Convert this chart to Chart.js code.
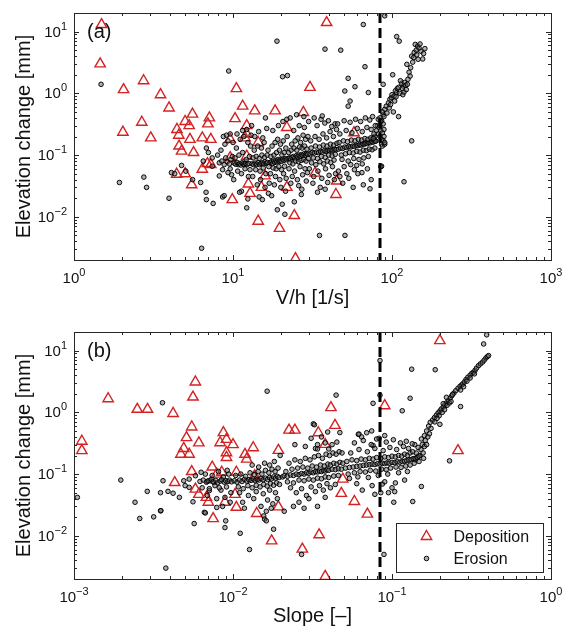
<!DOCTYPE html>
<html>
<head>
<meta charset="utf-8">
<title>Elevation change</title>
<script src="https://cdn.jsdelivr.net/npm/chart.js@4.4.0/dist/chart.umd.min.js"></script>
<style>
  html, body { margin: 0; padding: 0; background: #fff; }
  #wrap { position: relative; width: 563px; height: 629px; overflow: hidden; }
  canvas { position: absolute; left: 0; }
  #chartA { top: 0; }
  #chartB { top: 300px; }
</style>
</head>
<body>
<div id="wrap">
  <canvas id="chartA" width="563" height="320"></canvas>
  <canvas id="chartB" width="563" height="329"></canvas>
</div>
<script>
// ---- axis setup ----
const xTicksA = [1, 10, 100, 1000];
const xExpA = ['0', '1', '2', '3'];
const xTicksB = [0.001, 0.01, 0.1, 1];
const xExpB = ['\u22123', '\u22122', '\u22121', '0'];
const yTicks = [0.01, 0.1, 1, 10];
const yExp = ['\u22122', '\u22121', '0', '1'];
const thresholdA = 84;     // V/h threshold [1/s]
const thresholdB = 0.084;  // slope threshold [-]

// ---- panel (a): V/h vs elevation change ----
const depositionA = [
  [1.49, 13], [1.46, 3.0], [2.74, 1.6], [2.05, 1.15], [3.5, 0.95], [3.96, 0.58], [2.67, 0.34], [2.03, 0.235],
  [3.04, 0.19], [4.44, 0.26], [5.56, 0.46], [5.0, 0.35], [5.3, 0.30], [4.56, 0.21], [5.36, 0.18], [4.58, 0.14],
  [4.75, 0.116], [5.65, 0.11], [7.1, 0.40], [6.95, 0.32], [6.41, 0.19], [7.25, 0.18], [4.42, 0.049], [5.0, 0.05],
  [5.5, 0.033], [6.41, 0.059], [6.9, 0.073], [7.25, 0.07], [10.5, 1.19], [11.5, 0.62], [13.7, 0.52], [10.3, 0.39],
  [12.2, 0.30], [12.2, 0.22], [9.6, 0.18], [11.9, 0.19], [9.6, 0.091], [12.2, 0.096], [14.4, 0.16], [9.9, 0.019],
  [12.8, 0.024], [12.5, 0.034], [15.1, 0.030], [15.9, 0.046], [21.8, 0.030], [14.4, 0.0085], [19.6, 0.0065],
  [24.3, 0.0105], [24.7, 0.0021], [18.4, 0.52], [21.8, 0.28], [38.8, 14], [30.5, 1.25], [27.7, 0.49], [57.7, 0.23],
  [32.8, 0.051], [44.9, 0.038], [44.4, 0.023]
];

const erosionA = [
  [1.48, 1.4], [1.93, 0.036], [2.75, 0.044], [2.86, 0.030], [3.96, 0.020], [6.35, 0.0031], [9.4, 2.3], [18.9, 7.0],
  [20.5, 1.86], [22, 1.94], [4.1, 0.052], [4.3, 0.05], [4.75, 0.068], [5.05, 0.055], [5.57, 0.040], [6.26, 0.036],
  [6.77, 0.025], [6.8, 0.019], [7.5, 0.0165], [8.6, 0.021], [8.8, 0.022], [6.8, 0.13], [7.0, 0.11], [7.4, 0.09],
  [6.5, 0.08], [7.4, 0.066], [8.2, 0.046], [9.3, 0.052], [8.7, 0.2], [9.1, 0.21], [9.6, 0.22], [12.2, 0.014],
  [12.4, 0.0195], [11.3, 0.026], [11.0, 0.025], [66, 13], [90, 18], [37.9, 5.2], [47.6, 5.0], [67.6, 2.7], [53, 1.75],
  [58.5, 1.28], [50.5, 1.09], [71, 1.03], [53, 0.62], [54.5, 0.75], [88, 1.4], [101, 2.0], [107, 8.3], [111, 7.0],
  [133, 0.17], [119, 0.037], [35, 0.005], [50.6, 0.005], [72.7, 0.0285], [64.7, 0.052], [24.3, 0.0175], [110, 0.42],
  [102, 0.50],
  // steep rise beyond the threshold
  [84, 0.3], [97, 0.8], [107, 1.03], [118, 1.31], [126, 1.69], [124, 2.95], [133, 4.0], [140, 6.2], [161, 5.3],
  [146, 3.56], [88, 0.45], [90, 0.55], [92, 0.62], [95, 0.7], [99, 0.85], [100, 0.95], [103, 0.9], [105, 1.1],
  [108, 1.2], [112, 1.0], [115, 1.45], [116, 1.2], [120, 1.5], [122, 1.35], [125, 1.4], [128, 2.2], [130, 1.9],
  [131, 2.6], [135, 3.2], [137, 3.8], [138, 4.6], [142, 5.0], [143, 4.2], [145, 5.8], [148, 5.4], [150, 6.3],
  [152, 4.8], [156, 3.6], [158, 4.4], [86, 0.36], [87, 0.5], [89, 0.42], [93, 0.48], [96, 0.58], [98, 0.66],
  [104, 0.75], [106, 0.88], [110, 1.25], [113, 1.6], [117, 0.95], [119, 1.05], [123, 1.15],
  // cluster at the threshold
  [80, 0.25], [81, 0.3], [82, 0.22], [83, 0.28], [84, 0.2], [85, 0.25], [86, 0.18], [86, 0.15], [87, 0.14],
  [87, 0.23], [88, 0.17], [88, 0.32], [89, 0.2], [89, 0.26], [90, 0.15], [90, 0.16], [78, 0.2], [79, 0.17],
  [77, 0.22], [76, 0.19], [82, 0.38], [84, 0.4], [85, 0.35], [86, 0.066], [85, 0.065],
  // main band
  [8.2, 0.075], [8.5, 0.08], [8.8, 0.07], [9.0, 0.09], [9.2, 0.078], [9.5, 0.072], [9.7, 0.085], [9.9, 0.095],
  [8.4, 0.12], [8.9, 0.15], [9.3, 0.17], [9.6, 0.06], [9.8, 0.048], [8.0, 0.1], [8.6, 0.058], [10, 0.16],
  [10.2, 0.074], [10.4, 0.071], [10.6, 0.076], [10.8, 0.07], [11, 0.073], [11.2, 0.069], [11.4, 0.075], [11.6, 0.072],
  [11.8, 0.07], [12, 0.074], [12.3, 0.071], [12.6, 0.073], [10.3, 0.09], [10.9, 0.1], [11.5, 0.11], [12.1, 0.085],
  [12.7, 0.095], [10.5, 0.13], [11.1, 0.18], [11.7, 0.2], [12.4, 0.16], [12.9, 0.14], [10.7, 0.055], [11.3, 0.05],
  [11.9, 0.06], [12.5, 0.045], [10.1, 0.04], [12.8, 0.058], [10.6, 0.22], [11.5, 0.25], [12.2, 0.26], [13, 0.21],
  [13.2, 0.072], [13.5, 0.07], [13.8, 0.074], [14.1, 0.071], [14.4, 0.076], [14.7, 0.07], [15, 0.073], [15.3, 0.075],
  [15.6, 0.072], [15.9, 0.078], [16.2, 0.074], [16.5, 0.076], [13.4, 0.09], [14, 0.095], [14.6, 0.088], [15.2, 0.1],
  [15.8, 0.092], [16.4, 0.1], [13.6, 0.12], [14.3, 0.14], [15.1, 0.13], [15.7, 0.16], [16.6, 0.12], [13.9, 0.058],
  [14.8, 0.055], [15.5, 0.062], [16.1, 0.05], [13.3, 0.045], [14.9, 0.04], [16.8, 0.065], [13.7, 0.2], [14.5, 0.24],
  [15.4, 0.19], [16.3, 0.27], [14.2, 0.033], [15.9, 0.03], [16.9, 0.035], [13.1, 0.3], [16, 0.4], [14.6, 0.021],
  [15.3, 0.019], [16.7, 0.024],
  [17.1, 0.075], [17.4, 0.078], [17.7, 0.073], [18, 0.08], [18.3, 0.076], [18.6, 0.082], [18.9, 0.078], [19.2, 0.085],
  [19.5, 0.08], [19.8, 0.083], [20.1, 0.079], [20.5, 0.086], [20.9, 0.082], [21.3, 0.088], [21.7, 0.084], [17.3, 0.095],
  [18.1, 0.1], [18.8, 0.11], [19.6, 0.12], [20.3, 0.1], [21, 0.11], [21.5, 0.13], [17.6, 0.14], [18.4, 0.16],
  [19.1, 0.18], [19.9, 0.15], [20.7, 0.17], [21.9, 0.2], [17.9, 0.062], [18.7, 0.06], [19.4, 0.065], [20.2, 0.058],
  [21.1, 0.066], [17.2, 0.05], [18.5, 0.045], [19.7, 0.04], [20.8, 0.05], [21.6, 0.042], [17.8, 0.25], [19.3, 0.3],
  [20.6, 0.35], [21.8, 0.38], [18.2, 0.033], [20, 0.03], [21.4, 0.026], [19, 0.013], [20.4, 0.016], [17.5, 0.022],
  [21.2, 0.011],
  [22.2, 0.088], [22.6, 0.09], [23, 0.086], [23.5, 0.092], [24, 0.095], [24.5, 0.09], [25, 0.098], [25.5, 0.094],
  [26, 0.1], [26.5, 0.096], [27, 0.102], [27.5, 0.098], [28, 0.105], [28.5, 0.1], [29, 0.106], [29.5, 0.103],
  [22.4, 0.11], [23.2, 0.12], [24.2, 0.13], [25.2, 0.12], [26.2, 0.135], [27.2, 0.13], [28.2, 0.14], [29.2, 0.125],
  [22.8, 0.075], [23.8, 0.072], [24.8, 0.08], [25.8, 0.078], [26.8, 0.082], [27.8, 0.085], [28.8, 0.08], [29.8, 0.088],
  [23.4, 0.15], [24.6, 0.17], [25.6, 0.19], [26.6, 0.16], [27.6, 0.21], [28.6, 0.18], [29.6, 0.2], [22.5, 0.06],
  [24.4, 0.055], [26.4, 0.065], [28.4, 0.06], [23.6, 0.045], [25.4, 0.04], [27.4, 0.048], [29.4, 0.052], [24.1, 0.25],
  [26.1, 0.3], [28.1, 0.28], [29.9, 0.35], [23.1, 0.035], [25.9, 0.032], [28.9, 0.038], [27.1, 0.028], [25.1, 0.45],
  [22.9, 0.4], [27.9, 0.42], [26.9, 0.023],
  [30.5, 0.105], [31.5, 0.11], [32.5, 0.108], [33.5, 0.112], [34.5, 0.11], [35.5, 0.115], [36.5, 0.112], [37.5, 0.118],
  [38.5, 0.115], [39.5, 0.12], [40.5, 0.118], [41.5, 0.122], [42.5, 0.12], [43.5, 0.125], [44.5, 0.122], [31, 0.13],
  [33, 0.14], [35, 0.135], [37, 0.145], [39, 0.14], [41, 0.15], [43, 0.145], [45, 0.155], [32, 0.09], [34, 0.088],
  [36, 0.095], [38, 0.092], [40, 0.1], [42, 0.097], [44, 0.103], [30.8, 0.17], [32.8, 0.2], [34.8, 0.18], [36.8, 0.22],
  [38.8, 0.19], [40.8, 0.24], [42.8, 0.2], [44.8, 0.26], [31.2, 0.075], [33.2, 0.07], [35.2, 0.078], [37.2, 0.072],
  [39.2, 0.08], [41.2, 0.076], [43.2, 0.083], [30.2, 0.06], [34.2, 0.055], [38.2, 0.06], [42.2, 0.065], [32.2, 0.045],
  [36.2, 0.042], [40.2, 0.047], [44.2, 0.05], [33.8, 0.3], [37.8, 0.33], [41.8, 0.29], [35.8, 0.38], [39.8, 0.36],
  [43.8, 0.32], [31.8, 0.035], [35.4, 0.03], [39.4, 0.036], [43.4, 0.04], [34, 0.025], [38, 0.028], [32.4, 0.4],
  [36.4, 0.43],
  [46, 0.125], [47.5, 0.13], [49, 0.128], [50.5, 0.135], [52, 0.132], [53.5, 0.138], [55, 0.135], [56.5, 0.14],
  [58, 0.138], [59.5, 0.145], [61, 0.142], [62.5, 0.148], [64, 0.145], [65.5, 0.152], [67, 0.15], [68.5, 0.155],
  [70, 0.153], [71.5, 0.16], [73, 0.158], [74.5, 0.165], [76, 0.162], [77.5, 0.17], [79, 0.168], [46.5, 0.16],
  [49.5, 0.17], [52.5, 0.165], [55.5, 0.175], [58.5, 0.17], [61.5, 0.18], [64.5, 0.175], [67.5, 0.185], [70.5, 0.18],
  [73.5, 0.19], [76.5, 0.185], [48, 0.1], [51, 0.105], [54, 0.11], [57, 0.108], [60, 0.115], [63, 0.112], [66, 0.12],
  [69, 0.118], [72, 0.125], [75, 0.122], [78, 0.13], [47, 0.22], [51.5, 0.25], [56, 0.23], [60.5, 0.27], [65, 0.24],
  [69.5, 0.28], [74, 0.26], [78.5, 0.3], [48.5, 0.085], [53, 0.08], [57.5, 0.088], [62, 0.085], [66.5, 0.09],
  [71, 0.095], [50, 0.065], [55, 0.07], [60, 0.068], [65, 0.072], [46, 0.055], [52, 0.05], [58, 0.058], [45.5, 0.32],
  [50, 0.36], [54.5, 0.34], [59, 0.38], [63.5, 0.35], [68, 0.4], [72.5, 0.37], [75.5, 0.42], [47, 0.045], [53.5, 0.042],
  [61, 0.05], [70, 0.06], [49, 0.035], [57, 0.03], [66, 0.033], [74, 0.04]
];

// ---- panel (b): slope vs elevation change ----
const depositionB = [
  [0.00112, 0.34], [0.00112, 0.24], [0.00164, 1.66], [0.0025, 1.12], [0.0029, 1.12], [0.0042, 0.96], [0.0058, 3.1],
  [0.0056, 1.77], [0.0055, 0.58], [0.0051, 0.39], [0.0061, 0.32], [0.0049, 0.26], [0.0047, 0.21], [0.0053, 0.21],
  [0.0043, 0.073], [0.0055, 0.11], [0.0058, 0.057], [0.0061, 0.047], [0.0068, 0.042], [0.0070, 0.035], [0.0075, 0.019],
  [0.0074, 0.13], [0.0079, 0.10], [0.0087, 0.47], [0.0091, 0.365], [0.0083, 0.322], [0.010, 0.30], [0.0134, 0.267],
  [0.0193, 0.242], [0.0119, 0.209], [0.0091, 0.222], [0.0091, 0.186], [0.0122, 0.175], [0.0085, 0.107], [0.0105, 0.107],
  [0.0137, 0.094], [0.0089, 0.035], [0.0103, 0.047], [0.0105, 0.029], [0.0141, 0.023], [0.0193, 0.0295], [0.0175, 0.0083],
  [0.0273, 0.0061], [0.0348, 0.0104], [0.038, 0.0022], [0.048, 0.0487], [0.058, 0.036], [0.07, 0.0225], [0.0413, 1.19],
  [0.0438, 0.615], [0.0344, 0.467], [0.0225, 0.516], [0.0245, 0.516], [0.038, 0.303], [0.09, 1.28], [0.2, 14.5],
  [0.26, 0.24], [0.049, 0.083], [0.0136, 0.088]
];

const erosionB = [
  [0.00105, 0.042], [0.00197, 0.08], [0.00242, 0.035], [0.00259, 0.0191], [0.00289, 0.0525], [0.00317, 0.0203],
  [0.0035, 0.0254], [0.00352, 0.0256], [0.0035, 0.050], [0.00363, 0.078], [0.0039, 0.0525], [0.0042, 0.049],
  [0.00378, 0.0030], [0.0046, 0.042], [0.0049, 0.078], [0.005, 0.065], [0.0053, 0.061], [0.0053, 0.083], [0.0056, 0.0356],
  [0.0057, 0.0158], [0.0063, 0.107], [0.0058, 0.094], [0.0066, 0.024], [0.0067, 0.0235], [0.0069, 0.076], [0.0072, 0.078],
  [0.0076, 0.073], [0.0071, 0.054], [0.0079, 0.0288], [0.0036, 1.43], [0.0164, 2.2], [0.0445, 1.9], [0.076, 1.4],
  [0.032, 0.65], [0.0394, 0.48], [0.047, 0.47], [0.0614, 0.44], [0.0644, 0.40], [0.0693, 0.468], [0.0745, 0.50],
  [0.033, 0.26], [0.034, 0.255], [0.040, 0.255], [0.084, 6.9], [0.084, 1.9], [0.133, 5.0], [0.187, 4.9], [0.13, 1.69],
  [0.116, 1.06], [0.27, 1.24], [0.23, 0.164], [0.153, 0.063], [0.135, 0.036], [0.104, 0.052], [0.1026, 0.035],
  [0.095, 0.050], [0.087, 0.069], [0.078, 0.047], [0.089, 0.005], [0.377, 12.8], [0.394, 18], [0.027, 0.005],
  [0.0127, 0.006], [0.0111, 0.011], [0.018, 0.0128], [0.0156, 0.021], [0.0158, 0.0186], [0.0162, 0.0175],
  [0.0089, 0.0136], [0.009, 0.0175], [0.0325, 0.63], [0.062, 0.445], [0.08, 0.37], [0.09, 0.42], [0.076, 0.29],
  // steep rise at high slopes
  [0.153, 0.37], [0.16, 0.42], [0.165, 0.5], [0.17, 0.6], [0.174, 0.69], [0.18, 0.75], [0.185, 0.82], [0.19, 0.9],
  [0.195, 0.98], [0.2, 1.05], [0.204, 1.13], [0.21, 1.22], [0.215, 1.32], [0.22, 1.42], [0.226, 1.55], [0.232, 1.7],
  [0.238, 1.86], [0.245, 2.05], [0.252, 2.25], [0.26, 2.45], [0.268, 2.65], [0.275, 2.8], [0.279, 2.88], [0.285, 3.1],
  [0.292, 3.4], [0.3, 3.7], [0.31, 4.0], [0.318, 4.3], [0.325, 4.45], [0.333, 4.8], [0.34, 5.2], [0.35, 5.7],
  [0.36, 6.1], [0.371, 6.5], [0.38, 7.0], [0.39, 7.6], [0.398, 8.0], [0.405, 8.3], [0.198, 0.88], [0.207, 1.0],
  [0.214, 1.1], [0.222, 1.3], [0.23, 1.42], [0.186, 0.7], [0.192, 0.8], [0.2, 0.64], [0.22, 1.75],
  [0.235, 1.5], [0.27, 2.3], [0.282, 2.6], [0.296, 3.2], [0.31, 3.6], [0.33, 4.2], [0.21, 1.38], [0.24, 1.95],
  [0.15, 0.2], [0.152, 0.25], [0.155, 0.3], [0.157, 0.22], [0.16, 0.28], [0.162, 0.35], [0.158, 0.18], [0.165, 0.3],
  [0.168, 0.4], [0.172, 0.45], [0.176, 0.55], [0.148, 0.16], [0.145, 0.19], [0.142, 0.22], [0.14, 0.17], [0.138, 0.15],
  // main band
  [0.0062, 0.076], [0.0065, 0.08], [0.0068, 0.074], [0.007, 0.078], [0.0073, 0.082], [0.0075, 0.075], [0.0078, 0.079],
  [0.008, 0.072], [0.0083, 0.077], [0.0085, 0.081], [0.0088, 0.074], [0.009, 0.078], [0.0093, 0.076], [0.0095, 0.08],
  [0.0098, 0.075], [0.0064, 0.06], [0.0071, 0.058], [0.0077, 0.065], [0.0084, 0.055], [0.0091, 0.062], [0.0097, 0.05],
  [0.0067, 0.1], [0.0074, 0.095], [0.0081, 0.11], [0.0087, 0.09], [0.0094, 0.1], [0.0069, 0.045], [0.0079, 0.04],
  [0.0089, 0.042], [0.0096, 0.035], [0.0086, 0.03], [0.0082, 0.06], [0.0092, 0.115],
  [0.0102, 0.078], [0.0106, 0.074], [0.011, 0.08], [0.0114, 0.076], [0.0118, 0.082], [0.0122, 0.077], [0.0126, 0.081],
  [0.013, 0.079], [0.0134, 0.083], [0.0138, 0.078], [0.0142, 0.082], [0.0146, 0.08], [0.015, 0.085], [0.0155, 0.081],
  [0.016, 0.086], [0.0165, 0.082], [0.017, 0.088], [0.0175, 0.084], [0.018, 0.09], [0.0185, 0.086], [0.019, 0.092],
  [0.0195, 0.088], [0.0104, 0.095], [0.0112, 0.1], [0.012, 0.092], [0.0128, 0.105], [0.0136, 0.098], [0.0144, 0.11],
  [0.0152, 0.1], [0.016, 0.115], [0.0168, 0.105], [0.0176, 0.12], [0.0184, 0.11], [0.0192, 0.125], [0.0108, 0.062],
  [0.0116, 0.058], [0.0124, 0.065], [0.0132, 0.06], [0.014, 0.066], [0.0148, 0.062], [0.0156, 0.068], [0.0164, 0.064],
  [0.0172, 0.07], [0.018, 0.066], [0.0188, 0.072], [0.0196, 0.068], [0.011, 0.05], [0.0125, 0.045], [0.014, 0.052],
  [0.0155, 0.048], [0.017, 0.055], [0.0185, 0.05], [0.0115, 0.035], [0.0135, 0.04], [0.015, 0.03], [0.0165, 0.038],
  [0.0178, 0.033], [0.019, 0.04], [0.0132, 0.14], [0.0158, 0.15], [0.0182, 0.16], [0.0145, 0.13], [0.017, 0.14],
  [0.0198, 0.2], [0.0162, 0.025], [0.0118, 0.028], [0.0174, 0.028],
  [0.0205, 0.09], [0.021, 0.094], [0.022, 0.092], [0.023, 0.097], [0.024, 0.095], [0.025, 0.1], [0.026, 0.098],
  [0.027, 0.102], [0.028, 0.1], [0.029, 0.105], [0.03, 0.103], [0.031, 0.108], [0.032, 0.105], [0.033, 0.11],
  [0.034, 0.108], [0.035, 0.112], [0.036, 0.11], [0.037, 0.115], [0.038, 0.112], [0.039, 0.117], [0.04, 0.115],
  [0.042, 0.12], [0.044, 0.118], [0.046, 0.122], [0.048, 0.12], [0.0215, 0.11], [0.0235, 0.12], [0.0255, 0.125],
  [0.0275, 0.13], [0.0295, 0.125], [0.0315, 0.135], [0.0335, 0.13], [0.0355, 0.14], [0.0375, 0.135], [0.0395, 0.145],
  [0.041, 0.14], [0.043, 0.15], [0.045, 0.145], [0.047, 0.155], [0.049, 0.15], [0.022, 0.075], [0.024, 0.072],
  [0.026, 0.08], [0.028, 0.078], [0.03, 0.083], [0.032, 0.08], [0.034, 0.086], [0.036, 0.084], [0.038, 0.09],
  [0.04, 0.088], [0.043, 0.093], [0.046, 0.095], [0.0225, 0.15], [0.0245, 0.17], [0.0265, 0.16], [0.0285, 0.18],
  [0.0305, 0.17], [0.0325, 0.19], [0.0345, 0.2], [0.0365, 0.18], [0.0385, 0.21], [0.0405, 0.2], [0.0425, 0.22],
  [0.0445, 0.21], [0.0465, 0.23], [0.0485, 0.22], [0.023, 0.06], [0.027, 0.058], [0.031, 0.062], [0.035, 0.065],
  [0.039, 0.07], [0.044, 0.068], [0.025, 0.05], [0.029, 0.045], [0.033, 0.052], [0.037, 0.055], [0.041, 0.06],
  [0.026, 0.035], [0.03, 0.04], [0.034, 0.03], [0.038, 0.042], [0.021, 0.025], [0.024, 0.03], [0.028, 0.028],
  [0.0245, 0.3], [0.0285, 0.28], [0.034, 0.3], [0.038, 0.32], [0.042, 0.3], [0.045, 0.33], [0.031, 0.38], [0.036, 0.4],
  [0.051, 0.125], [0.054, 0.128], [0.057, 0.13], [0.06, 0.133], [0.063, 0.135], [0.066, 0.138], [0.069, 0.14],
  [0.072, 0.142], [0.075, 0.145], [0.078, 0.143], [0.081, 0.147], [0.084, 0.145], [0.087, 0.15], [0.09, 0.148],
  [0.093, 0.152], [0.096, 0.15], [0.1, 0.155], [0.104, 0.153], [0.108, 0.158], [0.112, 0.156], [0.116, 0.16],
  [0.12, 0.162], [0.124, 0.165], [0.128, 0.17], [0.132, 0.172], [0.136, 0.178], [0.14, 0.18], [0.144, 0.185],
  [0.148, 0.195], [0.052, 0.16], [0.056, 0.17], [0.06, 0.165], [0.064, 0.175], [0.068, 0.17], [0.072, 0.18],
  [0.076, 0.175], [0.08, 0.185], [0.085, 0.18], [0.09, 0.19], [0.095, 0.185], [0.1, 0.195], [0.105, 0.19], [0.11, 0.2],
  [0.115, 0.195], [0.12, 0.21], [0.125, 0.2], [0.13, 0.22], [0.135, 0.23], [0.053, 0.1], [0.058, 0.105], [0.063, 0.11],
  [0.068, 0.108], [0.073, 0.115], [0.079, 0.112], [0.086, 0.12], [0.092, 0.118], [0.098, 0.125], [0.106, 0.13],
  [0.114, 0.128], [0.122, 0.135], [0.13, 0.14], [0.055, 0.22], [0.062, 0.25], [0.07, 0.23], [0.078, 0.26],
  [0.088, 0.24], [0.097, 0.27], [0.107, 0.25], [0.118, 0.28], [0.127, 0.26], [0.139, 0.3], [0.146, 0.27],
  [0.054, 0.085], [0.061, 0.09], [0.071, 0.088], [0.082, 0.095], [0.094, 0.1], [0.11, 0.105], [0.125, 0.11],
  [0.058, 0.32], [0.066, 0.35], [0.074, 0.3], [0.083, 0.38], [0.092, 0.33], [0.102, 0.36], [0.113, 0.32],
  [0.123, 0.34], [0.134, 0.31], [0.06, 0.07], [0.075, 0.065], [0.09, 0.075], [0.105, 0.072], [0.12, 0.08],
  [0.065, 0.055], [0.085, 0.05], [0.1, 0.06]
];

const FONT = '"Liberation Sans", Arial, Helvetica, sans-serif';
const AXIS_COLOR = '#262626';

const depositionStyle = {
  pointStyle: 'triangle', radius: 6, borderWidth: 1.4,
  borderColor: '#d42222', backgroundColor: 'rgba(0,0,0,0)'
};
const erosionStyle = {
  pointStyle: 'circle', radius: 2.3, borderWidth: 1,
  borderColor: 'rgba(0,0,0,0.95)', backgroundColor: 'rgba(95,95,95,0.5)'
};

const toXY = pts => pts.map(p => ({ x: p[0], y: p[1] }));

/**
 * Draw "10" with a superscript exponent
 */
function drawPow(ctx, exp, x, y, align) {
  ctx.font = '15px ' + FONT;
  const wBase = ctx.measureText('10').width;
  ctx.font = '11px ' + FONT;
  const wExp = ctx.measureText(exp).width;
  let left = x;
  if (align === 'center') left = x - (wBase + wExp) / 2;
  if (align === 'right') left = x - (wBase + wExp);
  ctx.textAlign = 'left';
  ctx.textBaseline = 'alphabetic';
  ctx.font = '15px ' + FONT;
  ctx.fillText('10', left, y);
  ctx.font = '11px ' + FONT;
  ctx.fillText(exp, left + wBase, y - 7);
}

// MATLAB-like frame: box, inward ticks on all sides, labels, threshold line, legend
const matlabFrame = {
  id: 'matlabFrame',
  afterDatasetsDraw(chart, args, opts) {
    const { ctx, chartArea: a, scales: { x } } = chart;
    const px = Math.round(x.getPixelForValue(opts.threshold));
    ctx.save();
    ctx.strokeStyle = '#000';
    ctx.lineWidth = 3;
    ctx.setLineDash([10, 5]);
    ctx.beginPath();
    ctx.moveTo(px, a.top);
    ctx.lineTo(px, a.bottom);
    ctx.stroke();
    ctx.restore();
  },
  afterDraw(chart, args, opts) {
    const { ctx, chartArea: a, scales: { x, y } } = chart;
    ctx.save();
    ctx.strokeStyle = AXIS_COLOR;
    ctx.fillStyle = '#111';
    ctx.lineWidth = 1;

    // box
    ctx.strokeRect(Math.round(a.left) + 0.5, Math.round(a.top) + 0.5,
      Math.round(a.right - a.left), Math.round(a.bottom - a.top));

    // ticks
    const logTicks = (scale) => {
      const out = [];
      const k0 = Math.floor(Math.log10(scale.min) + 1e-9);
      const k1 = Math.ceil(Math.log10(scale.max) - 1e-9);
      for (let k = k0; k <= k1; k++) {
        for (let m = 1; m <= 9; m++) {
          const v = m * Math.pow(10, k);
          if (v >= scale.min * 0.999 && v <= scale.max * 1.001) out.push({ v, major: m === 1 });
        }
      }
      return out;
    };
    ctx.beginPath();
    logTicks(x).forEach(t => {
      const p = Math.round(x.getPixelForValue(t.v)) + 0.5;
      const len = t.major ? 5 : 3;
      ctx.moveTo(p, a.bottom); ctx.lineTo(p, a.bottom - len);
      ctx.moveTo(p, a.top); ctx.lineTo(p, a.top + len);
    });
    logTicks(y).forEach(t => {
      const p = Math.round(y.getPixelForValue(t.v)) + 0.5;
      const len = t.major ? 5 : 3;
      ctx.moveTo(a.left, p); ctx.lineTo(a.left + len, p);
      ctx.moveTo(a.right, p); ctx.lineTo(a.right - len, p);
    });
    ctx.stroke();

    // tick labels
    opts.xTicks.forEach((v, i) => {
      drawPow(ctx, opts.xExp[i], x.getPixelForValue(v), a.bottom + 23, 'center');
    });
    yTicks.forEach((v, i) => {
      drawPow(ctx, yExp[i], a.left - 7, y.getPixelForValue(v) + 5, 'right');
    });

    // axis titles
    ctx.font = '20px ' + FONT;
    ctx.textAlign = 'center';
    ctx.textBaseline = 'alphabetic';
    ctx.fillText(opts.xTitle, (a.left + a.right) / 2, a.bottom + opts.xTitleOffset);
    ctx.save();
    ctx.translate(30, (a.top + a.bottom) / 2);
    ctx.rotate(-Math.PI / 2);
    ctx.fillText('Elevation change [mm]', 0, 0);
    ctx.restore();

    // panel label
    ctx.textAlign = 'left';
    ctx.font = '20px ' + FONT;
    ctx.fillText(opts.panel, a.left + 13, a.top + 25);

    // legend
    if (opts.legend) {
      const lx = 396.5, ly = a.bottom - 55.5, lw = 147, lh = 49;
      ctx.fillStyle = '#fff';
      ctx.fillRect(lx, ly, lw, lh);
      ctx.strokeStyle = AXIS_COLOR;
      ctx.strokeRect(lx, ly, lw, lh);
      chart.data.datasets.forEach((ds, i) => {
        const my = ly + 13 + i * 22;
        ctx.strokeStyle = ds.pointBorderColor;
        ctx.fillStyle = ds.pointBackgroundColor;
        ctx.lineWidth = ds.pointBorderWidth;
        Chart.helpers.drawPoint(ctx, {
          pointStyle: ds.pointStyle, radius: ds.pointRadius,
          borderWidth: ds.pointBorderWidth, rotation: 0
        }, lx + 30, my);
        ctx.fillStyle = '#111';
        ctx.font = '16px ' + FONT;
        ctx.textAlign = 'left';
        ctx.textBaseline = 'middle';
        ctx.fillText(ds.label, lx + 57, my + 1);
      });
    }
    ctx.restore();
  }
};

function makeDataset(label, pts, style, order) {
  return {
    label,
    data: toXY(pts),
    order,
    pointStyle: style.pointStyle,
    pointRadius: style.radius,
    pointBorderWidth: style.borderWidth,
    pointBorderColor: style.borderColor,
    pointBackgroundColor: style.backgroundColor,
    showLine: false
  };
}

function makeChart(id, deposition, erosion, xMin, xMax, padding, frame) {
  return new Chart(document.getElementById(id), {
    type: 'scatter',
    data: {
      datasets: [
        makeDataset('Deposition', deposition, depositionStyle, 1),
        makeDataset('Erosion', erosion, erosionStyle, 0)
      ]
    },
    options: {
      responsive: false,
      animation: false,
      events: [],
      devicePixelRatio: 1,
      layout: { padding },
      scales: {
        x: { type: 'logarithmic', min: xMin, max: xMax, display: false },
        y: { type: 'logarithmic', min: 0.002, max: 20, display: false }
      },
      plugins: {
        legend: { display: false },
        tooltip: { enabled: false },
        matlabFrame: frame
      }
    },
    plugins: [matlabFrame]
  });
}

makeChart('chartA', depositionA, erosionA, 1, 1000,
  { left: 74, right: 12, top: 13, bottom: 60 },
  { panel: '(a)', xTitle: 'V/h [1/s]', xTitleOffset: 44, xTicks: xTicksA, xExp: xExpA,
    threshold: thresholdA, legend: false });

makeChart('chartB', depositionB, erosionB, 0.001, 1,
  { left: 74, right: 12, top: 32, bottom: 50 },
  { panel: '(b)', xTitle: 'Slope [\u2013]', xTitleOffset: 43, xTicks: xTicksB, xExp: xExpB,
    threshold: thresholdB, legend: true });
</script>
</body>
</html>
